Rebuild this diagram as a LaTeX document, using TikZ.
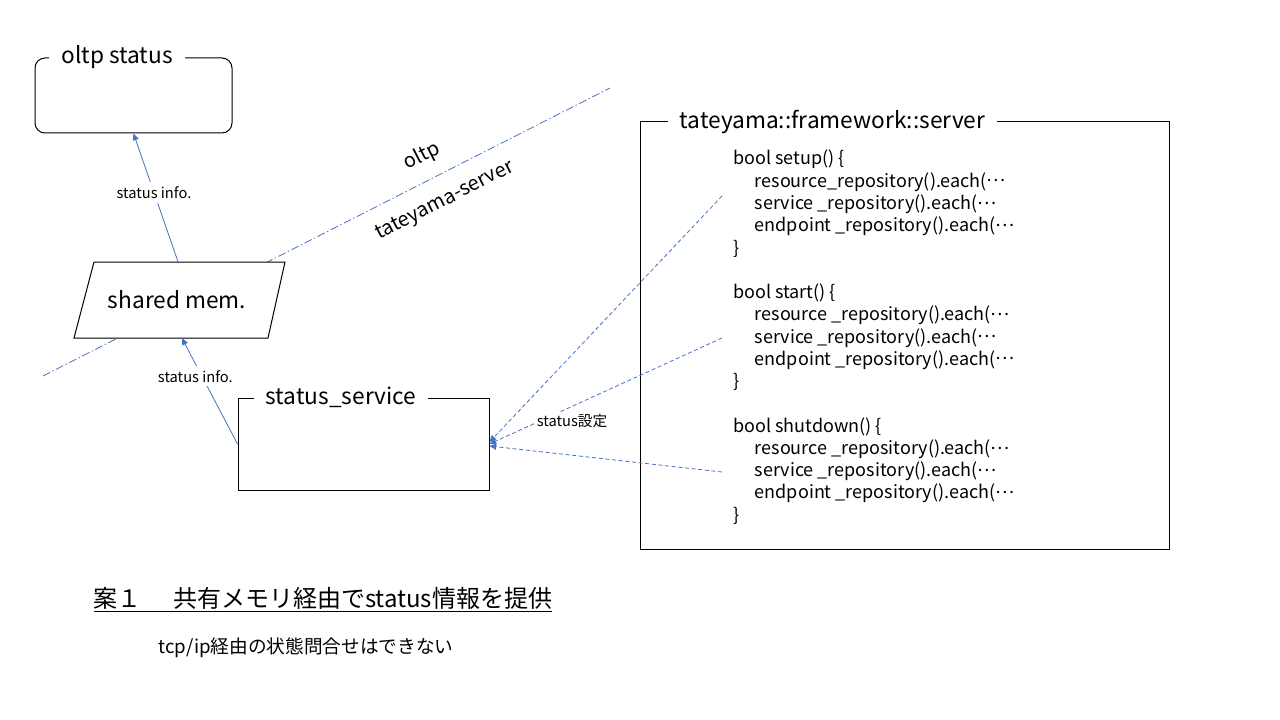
\documentclass[tikz,border=0pt]{standalone}
\usepackage{fontspec}
\setmainfont{Noto Sans CJK JP}
\usepackage{xcolor}
\usetikzlibrary{arrows.meta,positioning}
\definecolor{accent}{HTML}{4472C4}
\newcommand\more{(\raisebox{0.3em}{…}}
\tikzset{
  unitbox/.style  = {draw=black, line width=0.75pt, inner sep=0pt},
  boxtitle/.style = {fill=white, inner xsep=9pt, inner ysep=1pt,
                     font=\fontsize{17}{20}\selectfont},
  codetext/.style = {align=left, inner sep=0pt, font=\fontsize{13.5}{16.7}\selectfont},
  infoflow/.style = {-{Triangle[length=5pt,width=4.5pt]}, draw=accent, line width=0.6pt},
  setflow/.style  = {infoflow, dash pattern=on 3pt off 2pt},
  boundary/.style = {draw=accent, dash pattern=on 6pt off 2pt on 1pt off 2pt, line width=0.6pt},
  flowlabel/.style= {fill=white, inner sep=3pt, font=\fontsize{11}{13}\selectfont},
  sidelabel/.style= {rotate=27, font=\fontsize{15}{18}\selectfont},
}

\begin{document}
\begin{tikzpicture}[x=0.75pt, y=-0.75pt]
\useasboundingbox (0,0) rectangle (1280,720);

% ---------------- process boundary ------------------------------------
\coordinate (b1) at (43,376);
\coordinate (b2) at (610,88);
\draw[boundary] (b1) -- (b2);
\node[sidelabel] (upper) at (422,156) {oltp};
\node[sidelabel] (lower) at (445,201) {tateyama-server};

% ---------------- boxes -----------------------------------------------
\node[unitbox, rounded corners=7.5pt, minimum width=147.75pt, minimum height=56.25pt]
  (oltp) at (133.5,95.5) {};
\node[boxtitle, anchor=west] (oltpT) at ([xshift=11pt]oltp.north west) {oltp status};

\draw[fill=white, line width=0.75pt] (94,262) -- (285,262) -- (268,338) -- (74,338) -- cycle;
\node[minimum height=57pt, font=\fontsize{17}{20}\selectfont] (shm) at (177,300) {shared mem.};

\node[unitbox, minimum width=188.25pt, minimum height=69pt] (ss) at (363.5,444) {};
\node[boxtitle, anchor=west] (ssT) at ([xshift=12pt]ss.north west) {status\_service};

\node[unitbox, minimum width=396.75pt, minimum height=320.25pt] (srv) at (904.5,335.5) {};
\node[boxtitle, anchor=west] (srvT) at ([xshift=21pt]srv.north west)
  {tateyama::framework::server};

\node[codetext, anchor=north west] (code) at (733,150)
  {bool setup() \{\\
   \hspace*{1.2em}resource\_repository().each\more\\
   \hspace*{1.2em}service \_repository().each\more\\
   \hspace*{1.2em}endpoint \_repository().each\more\\
   \}\\[16.7pt]
   bool start() \{\\
   \hspace*{1.2em}resource \_repository().each\more\\
   \hspace*{1.2em}service \_repository().each\more\\
   \hspace*{1.2em}endpoint \_repository().each\more\\
   \}\\[16.7pt]
   bool shutdown() \{\\
   \hspace*{1.2em}resource \_repository().each\more\\
   \hspace*{1.2em}service \_repository().each\more\\
   \hspace*{1.2em}endpoint \_repository().each\more\\
   \}};

% ---------------- status flow -----------------------------------------
\draw[infoflow] ([xshift=0.75pt]shm.north) -- node[flowlabel, pos=0.54] {status info.} (oltp.south);
\draw[infoflow] (ss.west) -- node[flowlabel, pos=0.64, xshift=-5pt] {status info.} ([xshift=3.75pt]shm.south);

\coordinate (c1) at (722,196);
\coordinate (c2) at (722,338);
\coordinate (c3) at (722,472);
\draw[setflow] (c1) -- ([yshift=1.5pt]ss.east);
\draw[setflow] (c2) -- (ss.east);
\draw[setflow] (c3) -- ([yshift=-1.5pt]ss.east);
\node[flowlabel, inner sep=2pt, font=\fontsize{11}{13}\selectfont] (setT) at (572,421) {status設定};

% ---------------- caption ---------------------------------------------
\node[font=\fontsize{18}{22}\selectfont] (plan) at (323,600)
  {\underline{案１\hspace{1.3em}共有メモリ経由でstatus情報を提供}};
\node[font=\fontsize{14}{17}\selectfont, below=12pt of plan, xshift=-12.75pt] (note)
  {tcp/ip経由の状態問合せはできない};

\end{tikzpicture}
\end{document}
